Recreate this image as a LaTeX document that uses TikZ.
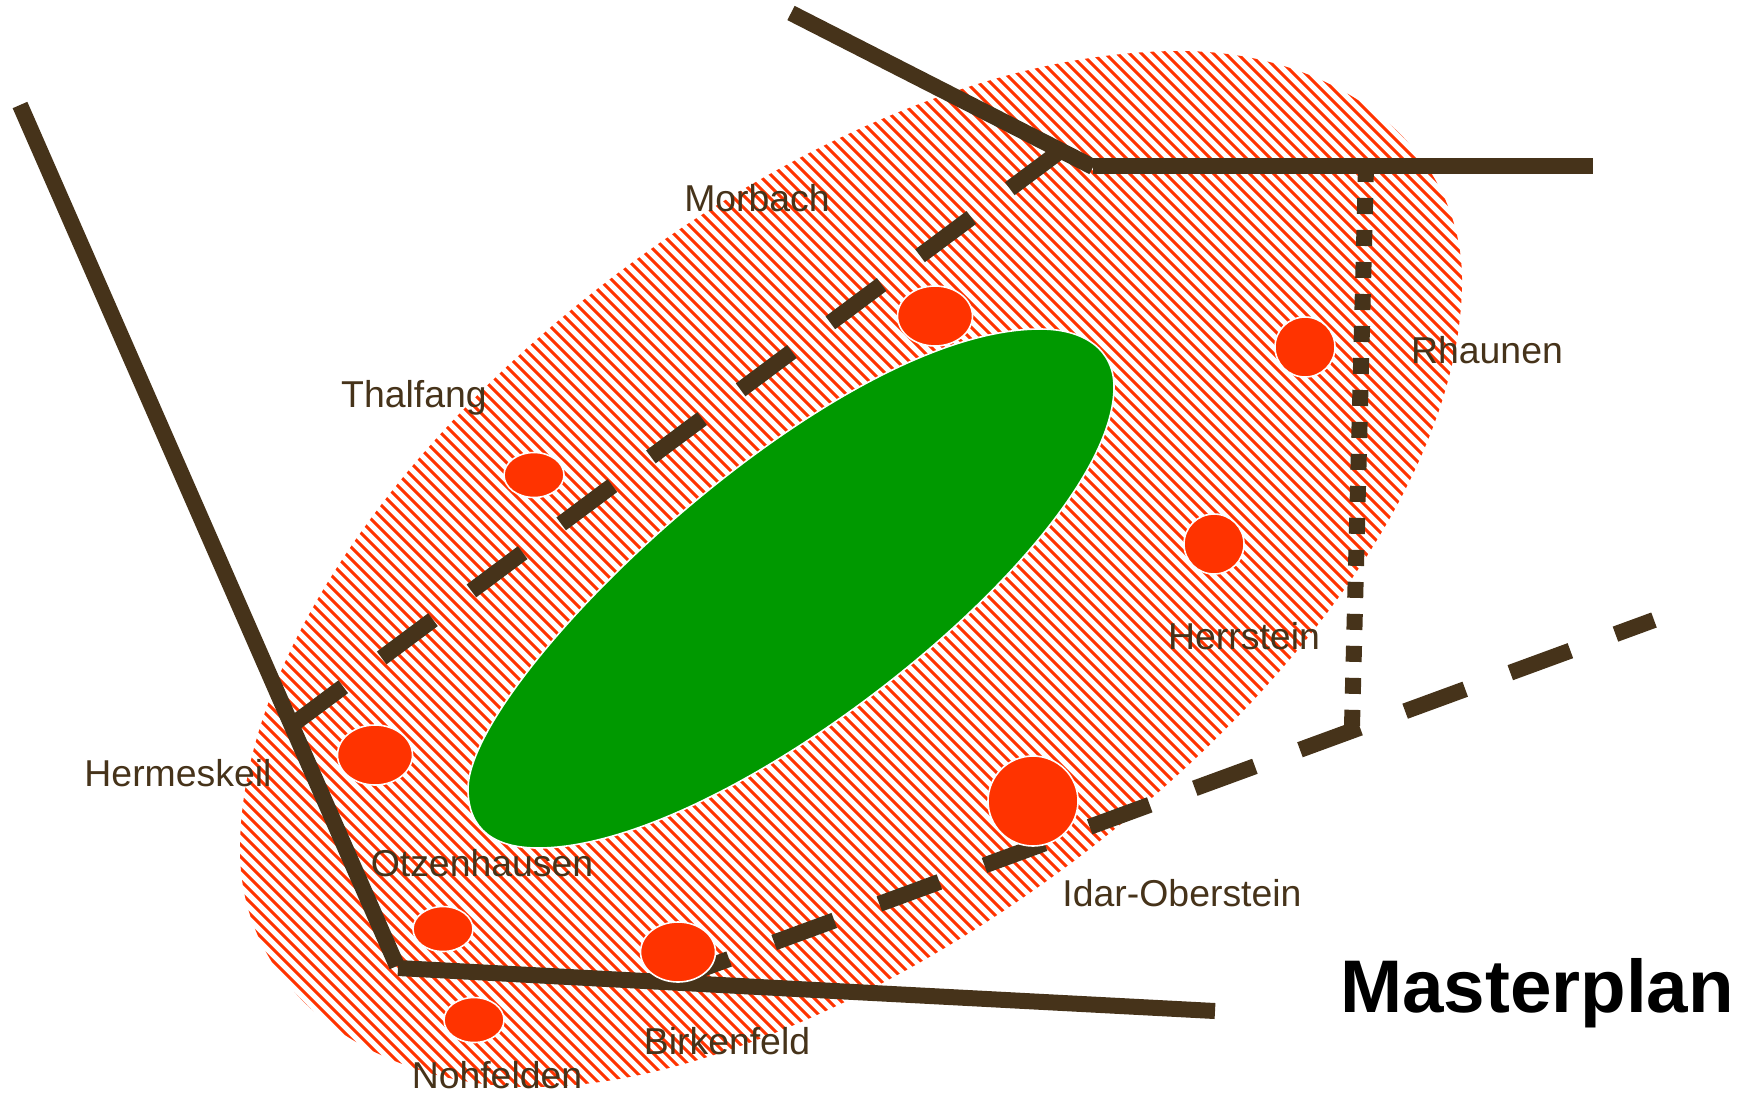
\documentclass[tikz,border=0pt]{standalone}
\usepackage{xcolor}
\usepackage{fontspec}
\usepackage{tikz}
\usetikzlibrary{shapes.geometric}
\setmainfont{Liberation Sans}
\definecolor{roadbrown}{HTML}{46331A}
\definecolor{hatchred}{HTML}{FF3300}
\definecolor{forestgreen}{HTML}{009900}

\begin{document}
\begin{tikzpicture}[
  x=0.5pt, y=-0.5pt,
  road/.style={draw=roadbrown, line width=8pt},
  plannedroad/.style={road, dash pattern=on 32pt off 24pt},
  ringroad/.style={road, dash pattern=on 8pt off 8pt},
  town/.style={ellipse, draw=white, fill=hatchred, line width=0.8pt, inner sep=0pt, outer sep=0pt},
  place/.style={text=roadbrown, font=\fontsize{18.7}{20}\selectfont, inner sep=0pt}
]
\useasboundingbox (0,0) rectangle (1740,1093);
% region
\begin{scope}
\clip (1180,51) .. controls (1340,51) and (1462,150) .. (1462,280)
  .. controls (1462,640) and (880,1087) .. (533,1087)
  .. controls (370,1087) and (240,990) .. (240,850)
  .. controls (240,500) and (780,51) .. cycle;
\foreach \k in {-56,...,135}
  \draw[hatchred, line width=1.5pt] ({200},{200-752+\k*12}) -- ({1500},{1500-752+\k*12});
\end{scope}
% forest
\fill[forestgreen, draw=white, line width=0.8pt] (1040,329)
  .. controls (1085,329) and (1114,350) .. (1114,387)
  .. controls (1114,540) and (730,848) .. (538,848)
  .. controls (495,848) and (468,830) .. (468,789)
  .. controls (468,680) and (830,329) .. cycle;
% roads
\coordinate (westStart) at (20,105);
\coordinate (westEnd) at (397,966);
\coordinate (southStart) at (398,968);
\coordinate (southEnd) at (1215,1011);
\coordinate (northStart) at (791,13);
\coordinate (northEnd) at (1093,167);
\coordinate (eastStart) at (1093,166);
\coordinate (eastEnd) at (1593,166);
\coordinate (hermeskeilFork) at (292,725);
\coordinate (morbachFork) at (1063,149);
\coordinate (birkenfeldFork) at (669,981);
\coordinate (rhaunenEnd) at (1654,620);
\coordinate (rhaunenFork) at (1366,166);
\coordinate (idarFork) at (1352,726);
\draw[road] (westStart) -- (westEnd);
\draw[road] (southStart) -- (southEnd);
\draw[road] (northStart) -- (northEnd);
\draw[road] (eastStart) -- (eastEnd);
\draw[plannedroad] (hermeskeilFork) -- (morbachFork);
\draw[plannedroad] (birkenfeldFork) -- (rhaunenEnd);
\draw[ringroad] (rhaunenFork) -- (idarFork);
% towns
\node[town, minimum width=37.5pt, minimum height=30pt] (morbachDot) at (935,316) {};
\node[town, minimum width=30pt, minimum height=30pt] (rhaunenDot) at (1305,347) {};
\node[town, minimum width=30pt, minimum height=22.5pt] (thalfangDot) at (534,475) {};
\node[town, minimum width=30pt, minimum height=30pt] (herrsteinDot) at (1214,544) {};
\node[town, minimum width=37.5pt, minimum height=30pt] (hermeskeilDot) at (375,755) {};
\node[town, minimum width=30pt, minimum height=22.5pt] (otzenhausenDot) at (443,929) {};
\node[town, minimum width=30pt, minimum height=22.5pt] (nohfeldenDot) at (474,1020) {};
\node[town, minimum width=37.5pt, minimum height=30pt] (birkenfeldDot) at (678,952) {};
\node[town, minimum width=45pt, minimum height=45pt] (idarDot) at (1033,801) {};
% labels
\node[place] (morbach) at (757,198) {Morbach};
\node[place] (thalfang) at (414,398) {Thalfang};
\node[place] (rhaunen) at (1487,350) {Rhaunen};
\node[place] (herrstein) at (1244,636) {Herrstein};
\node[place] (hermeskeil) at (178,773) {Hermeskeil};
\node[place] (otzenhausen) at (482,863) {Otzenhausen};
\node[place] (idar) at (1182,893) {Idar-Oberstein};
\node[place] (birkenfeld) at (727,1041) {Birkenfeld};
\node[place] (nohfelden) at (497,1075) {Nohfelden};
\node[font=\fontsize{37.3}{40}\selectfont\bfseries, inner sep=0pt] (masterplan) at (1537,993) {Masterplan};
\end{tikzpicture}
\end{document}
